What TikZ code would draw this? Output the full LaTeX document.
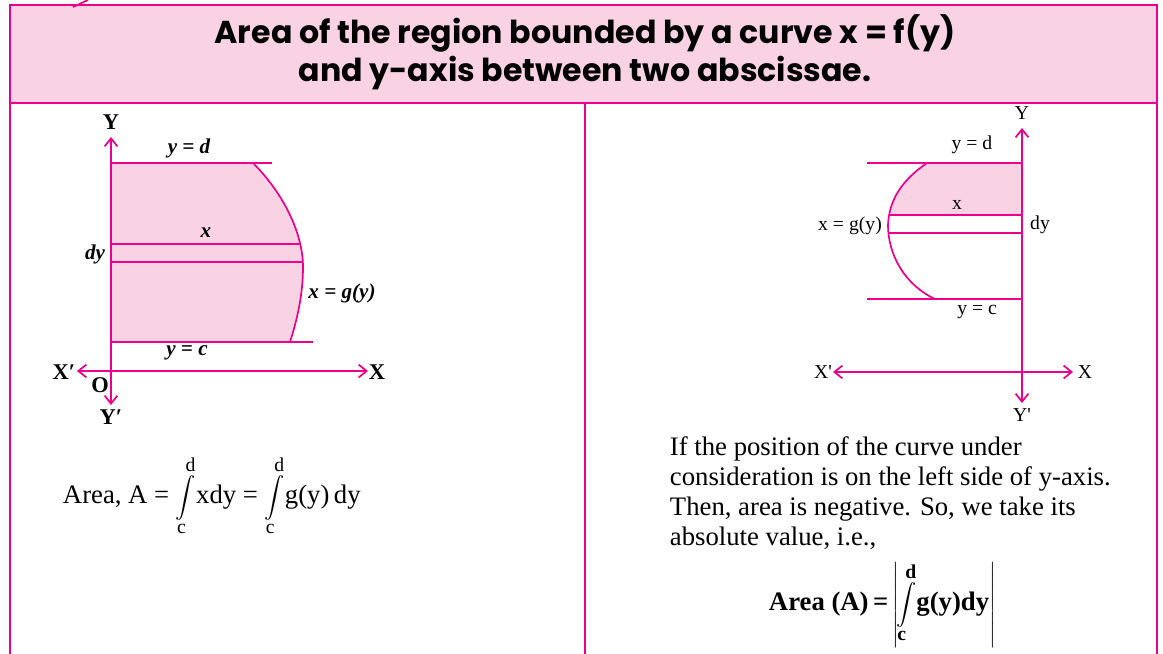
\documentclass[tikz,border=0pt]{standalone}
\usepackage{amsmath}
\usepackage{fontspec}
\setmainfont{Liberation Serif}
\newfontfamily\headfont{Poppins}
\usetikzlibrary{arrows.meta}
\definecolor{rim}{RGB}{236,0,140}
\definecolor{blush}{RGB}{249,211,228}
% integral with limits c and d, set a little smaller than the text
\newcommand{\intcd}{{\fontsize{14}{14}\selectfont$\displaystyle\int\limits_{\mbox{c}}^{\mbox{d}}$}}

\begin{document}
\begin{tikzpicture}[x=0.025cm, y=-0.025cm,
  frame/.style={draw=rim, line width=1.7pt},
  curve/.style={draw=rim, line width=1.2pt},
  axis/.style={draw=rim, line width=1.2pt, {Straight Barb[length=2mm,width=3.2mm]}-{Straight Barb[length=2mm,width=3.2mm]}},
  slbl/.style={font=\fontsize{15}{17}\selectfont\bfseries\itshape},
  sax/.style={font=\fontsize{16}{18}\selectfont\bfseries},
  rlbl/.style={font=\fontsize{14}{16}\selectfont},
  body/.style={font=\fontsize{19}{21.3}\selectfont},
]
\useasboundingbox (0,0) rectangle (1163,653);

% Heading box
\fill[blush] (10,5) rectangle (1157,103);
\draw[frame] (10,660) -- (10,5) -- (1157,5) -- (1157,660);
\draw[frame] (10,103) -- (1157,103);
\draw[frame] (585,103) -- (585,660);
\draw[rim, line width=1.2pt] (73,7) -- (88,0);
\node[align=center, font=\fontsize{22.5}{27}\selectfont\headfont\bfseries] (head) at (585,52)
  {Area of the region bounded by a curve x = f(y)\\ and y-axis between two abscissae.};

% Left sketch: curve right of y-axis
\fill[blush] (111,163) -- (253,163) .. controls (285,195) and (303,235) .. (303,267)
  .. controls (303,295) and (297,320) .. (290,342) -- (111,342) -- cycle;
\draw[curve] (253,163) .. controls (285,195) and (303,235) .. (303,267)
  .. controls (303,295) and (297,320) .. (290,342);
\draw[curve] (111,163) -- (272,163);
\draw[curve] (111,342) -- (313,342);
\draw[curve] (111,244) -- (300,244);
\draw[curve] (111,262) -- (303,262);

\coordinate (lnorth) at (111,137);
\coordinate (lsouth) at (111,405);
\coordinate (lwest) at (77,371);
\coordinate (least) at (368,371);
\draw[axis] (lnorth) -- (lsouth);
\draw[axis] (lwest) -- (least);

\node[sax] (lY) at (111,122) {Y};
\node[sax] (lYp) at (111,417) {Y′};
\node[sax] (lXp) at (64,372) {X′};
\node[sax] (lX) at (377,372) {X};
\node[sax] (lO) at (100,385) {O};
\node[slbl] (ld) at (189,148) {y = d};
\node[slbl] (lx) at (206,233) {x};
\node[slbl] (ldy) at (95,254) {dy};
\node[slbl] (lg) at (342,293) {x = g(y)};
\node[slbl] (lc) at (187,353) {y = c};

% Right sketch: curve left of y-axis
\begin{scope}
  \clip (850,163) rectangle (1022,215);
  \fill[blush] (1022,163) -- (927,163) .. controls (902,180) and (889,200) .. (888,225)
    .. controls (888,255) and (905,285) .. (935,299) -- (1022,299) -- cycle;
\end{scope}
\draw[curve] (927,163) .. controls (902,180) and (889,200) .. (888,225)
  .. controls (888,255) and (905,285) .. (935,299);
\draw[curve] (867,163) -- (1022,163);
\draw[curve] (867,299) -- (1022,299);
\draw[curve] (889,215) -- (1022,215);
\draw[curve] (888,233) -- (1022,233);

\coordinate (rnorth) at (1022,128);
\coordinate (rsouth) at (1022,403);
\coordinate (rwest) at (833,372);
\coordinate (reast) at (1073,372);
\draw[axis] (rnorth) -- (rsouth);
\draw[axis] (rwest) -- (reast);

\node[rlbl] (rY) at (1022,113) {Y};
\node[rlbl] (rYp) at (1022,415) {Y\textquotesingle};
\node[rlbl] (rXp) at (823,372) {X\textquotesingle};
\node[rlbl] (rX) at (1085,372) {X};
\node[rlbl] (rd) at (972,145) {y = d};
\node[rlbl] (rx) at (957,205) {x};
\node[rlbl] (rg) at (850,226) {x = g(y)};
\node[rlbl] (rdy) at (1040,225) {dy};
\node[rlbl] (rc) at (977,312) {y = c};

% Formulas and note
\node[body, anchor=base west] (larea) at (58,503)
  {Area, A = \intcd xdy = \intcd g(y)\,dy};
\node[body, anchor=north west, align=left] (note) at (665,432)
  {If the position of the curve under\\
   consideration is on the left side of y-axis.\\
   Then, area is negative. So, we take its\\
   absolute value, i.e.,};
\node[body, font=\fontsize{19}{21}\selectfont\bfseries, anchor=base west] (rarea) at (764,610)
  {Area (A)\,=\,{\fontsize{14}{14}\selectfont$\displaystyle\left|\!\int\limits_{\mbox{\bfseries c}}^{\mbox{\bfseries d}}\!\mbox{\fontsize{19}{21}\selectfont\bfseries g(y)dy}\right|$}};

\end{tikzpicture}
\end{document}
